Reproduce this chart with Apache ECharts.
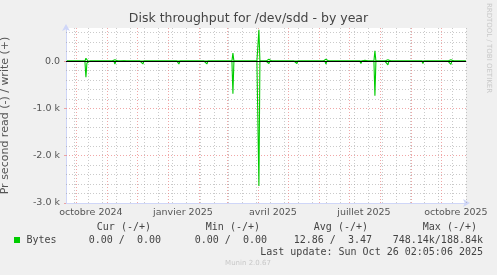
<!DOCTYPE html>
<html><head><meta charset="utf-8">
<script src="https://cdn.jsdelivr.net/npm/echarts@6/dist/echarts.min.js"></script>
<style>html,body{margin:0;padding:0;background:#f0f0f0}#c{width:497px;height:275px}</style>
</head><body><div id="c"></div>
<script>
// ---- data (daily averages, bytes/s) ----
const spikeDates  = ['2024-10-11','2024-10-12','2024-11-09','2024-11-18','2024-12-07','2025-01-12','2025-02-09','2025-03-07','2025-04-02','2025-04-12','2025-05-10','2025-05-15','2025-06-08','2025-07-13','2025-07-17','2025-07-27','2025-08-09','2025-09-13','2025-10-11'];
const readValues  = [-340, -40, -60, -20, -60, -60, -60, -690, -2640, -50, -50, -10, -60, -50, 0, -730, -80, -50, -70];
const writeValues = [  60,  20,  30,   5,  30,  30,  30,  170,   660,  40,  40,   0,  40,  40, 15,  220,  30,  30,  30];

// ---- tick labels ----
const xLabels = ['octobre 2024','janvier 2025','avril 2025','juillet 2025','octobre 2025'];
const xLabelDates = ['2024-10-16','2025-01-16','2025-04-16','2025-07-16','2025-10-16'];
const monthStarts = ['2024-10-01','2024-11-01','2024-12-01','2025-01-01','2025-02-01','2025-03-01','2025-04-01','2025-05-01','2025-06-01','2025-07-01','2025-08-01','2025-09-01','2025-10-01'];
const yTicks = [-3000, -2000, -1000, 0];
const yTickLabels = ['-3.0 k', '-2.0 k', '-1.0 k', '0.0'];

// ---- legend texts ----
const legendHeaders = ['Cur (-/+)', 'Min (-/+)', 'Avg (-/+)', 'Max (-/+)'];
const legendValues  = ['0.00 /  0.00', '0.00 /  0.00', '12.86 /  3.47', '748.14k/188.84k'];
const seriesName = 'Bytes';
const lastUpdate = 'Last update: Sun Oct 26 02:05:06 2025';

const DAY = 86400000;
const ts = s => Date.parse(s + 'T00:00:00Z');
const tStart = Date.UTC(2024, 8, 21, 2, 5), tEnd = Date.UTC(2025, 9, 26, 2, 5);

const readMap = {}, writeMap = {};
spikeDates.forEach((d, i) => { readMap[ts(d)] = readValues[i]; writeMap[ts(d)] = writeValues[i]; });
const readData = [], writeData = [];
for (let t = Date.UTC(2024, 8, 22); t <= Date.UTC(2025, 9, 26); t += DAY) {
  readData.push([t, readMap[t] || 0]);
  writeData.push([t, writeMap[t] || 0]);
}

const RED = 'rgba(235,130,130,0.7)', GREY = 'rgba(150,150,150,0.5)';
const gridLines = [];
for (let t = Date.UTC(2024, 8, 29); t < tEnd; t += 14 * DAY) gridLines.push({xAxis: t, lineStyle: {color: GREY, type: [1, 2], width: 1}});
for (let v = -2800; v <= 600; v += 200) if (v % 1000 !== 0) gridLines.push({yAxis: v, lineStyle: {color: GREY, type: [1, 2], width: 1}});
monthStarts.forEach(d => gridLines.push({xAxis: ts(d), lineStyle: {color: RED, type: [1, 2], width: 1}}));
[-2000, -1000].forEach(v => gridLines.push({yAxis: v, lineStyle: {color: RED, type: [1, 2], width: 1}}));

const FONT = 'DejaVu Sans', MONO = 'DejaVu Sans Mono';
const headerRight = [151, 260, 368, 477];
const valueRight = [161, 267, 372, 483];
const graphics = [
  {type: 'text', x: 248.5, y: 19, style: {text: 'Disk throughput for /dev/sdd - by year', font: '12.5px "' + FONT + '"', fill: '#444', align: 'center', verticalAlign: 'middle'}},
  {type: 'text', x: 489, y: 48, rotation: -Math.PI / 2, style: {text: 'RRDTOOL / TOBI OETIKER', font: '7px "' + FONT + '"', fill: '#c8c8c8', align: 'center', verticalAlign: 'middle'}},
  {type: 'rect', shape: {x: 14, y: 237, width: 6, height: 6}, style: {fill: '#00cc00'}},
  {type: 'text', x: 26.5, y: 240, style: {text: seriesName, font: '10px "' + MONO + '"', fill: '#444', align: 'left', verticalAlign: 'middle'}},
  {type: 'text', x: 483, y: 252, style: {text: lastUpdate, font: '10px "' + MONO + '"', fill: '#444', align: 'right', verticalAlign: 'middle'}},
  {type: 'text', x: 248, y: 263.5, style: {text: 'Munin 2.0.67', font: '7px "' + FONT + '"', fill: '#c8c8c8', align: 'center', verticalAlign: 'middle'}}
];
legendHeaders.forEach((h, i) => graphics.push({type: 'text', x: headerRight[i], y: 227.5, style: {text: h, font: '10px "' + MONO + '"', fill: '#444', align: 'right', verticalAlign: 'middle'}}));
legendValues.forEach((h, i) => graphics.push({type: 'text', x: valueRight[i], y: 240, style: {text: h, font: '10px "' + MONO + '"', fill: '#444', align: 'right', verticalAlign: 'middle'}}));

const xLabelTs = xLabelDates.map(ts);
const chart = echarts.init(document.getElementById('c'), null, {renderer: 'canvas'});
chart.setOption({
  backgroundColor: '#f0f0f0',
  animation: false,
  grid: {left: 66, top: 28, width: 400, height: 175, show: true, backgroundColor: '#ffffff', borderWidth: 0, containLabel: false, outerBoundsMode: 'none'},
  xAxis: {
    type: 'value', min: tStart, max: tEnd, scale: true,
    splitLine: {show: false},
    axisLine: {show: true, onZero: false, lineStyle: {color: '#CFD6F8', width: 1}, symbol: ['none', 'arrow'], symbolSize: [6, 7], symbolOffset: [0, 4]},
    axisTick: {show: false},
    axisLabel: {
      customValues: xLabelTs,
      formatter: v => { const i = xLabelTs.indexOf(v); return i >= 0 ? xLabels[i] : ''; },
      fontFamily: FONT, fontSize: 9.5, color: '#555', margin: 5
    }
  },
  yAxis: {
    type: 'value', min: -3000, max: 700,
    name: 'Pr second read (-) / write (+)', nameLocation: 'middle', nameGap: 55, nameRotate: 90,
    nameTextStyle: {fontFamily: FONT, fontSize: 11, color: '#555'},
    splitLine: {show: false},
    axisLine: {show: true, onZero: false, lineStyle: {color: '#CFD6F8', width: 1}, symbol: ['none', 'arrow'], symbolSize: [6, 7], symbolOffset: [0, 4]},
    axisTick: {show: true, customValues: yTicks, length: 2, lineStyle: {color: RED}},
    axisLabel: {
      customValues: yTicks,
      formatter: v => { const i = yTicks.indexOf(v); return i >= 0 ? yTickLabels[i] : ''; },
      fontFamily: FONT, fontSize: 9.5, color: '#555', margin: 6
    }
  },
  graphic: graphics,
  series: [
    {type: 'line', data: [], z: 1, silent: true,
     markLine: {silent: true, z: 1, symbol: 'none', label: {show: false}, animation: false, data: gridLines}},
    {name: 'read', type: 'line', data: readData, symbol: 'none', z: 3, lineStyle: {color: '#00cc00', width: 1.1}},
    {name: 'write', type: 'line', data: writeData, symbol: 'none', z: 3, lineStyle: {color: '#00cc00', width: 1.1}},
    {type: 'line', data: [], z: 10, zlevel: 0, silent: true,
     markLine: {silent: true, z: 10, symbol: 'none', label: {show: false}, animation: false,
       data: [{yAxis: 0, lineStyle: {color: '#000', width: 1.2, type: 'solid'}}]}}
  ]
});
</script></body></html>
